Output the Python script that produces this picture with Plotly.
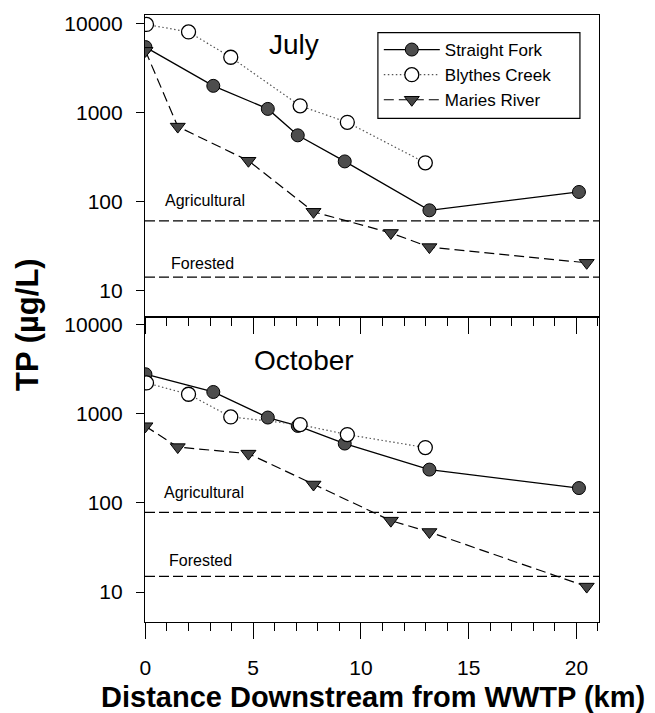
import plotly.graph_objects as go

# ---- data ----
SF_DIST = [0.0, 3.15, 5.68, 7.07, 9.25, 13.18, 20.12]
SF_JUL = [5400, 1980, 1090, 550, 280, 79, 127]
SF_OCT = [2750, 1740, 900, 725, 460, 235, 146]

BC_DIST = [0.05, 2.0, 3.96, 7.18, 9.37, 12.99]
BC_JUL = [9700, 8000, 4150, 1180, 770, 270]
BC_OCT = [2200, 1640, 915, 750, 580, 415]

MR_DIST = [0.0, 1.5, 4.78, 7.8, 11.39, 13.18, 20.48]
MR_JUL = [4900, 690, 285, 76, 44, 30.5, 20.3]
MR_OCT = [720, 420, 355, 160, 63, 47, 11.5]

AGRI = [60, 78]      # July, October agricultural reference TP
FOREST = [14, 15]    # July, October forested reference TP

X_RANGE = [-0.02, 21.05]
Y_TICKS = [10, 100, 1000, 10000]
X_TICKS = [0, 5, 10, 15, 20]

FONT = "Arial, Liberation Sans, Helvetica, sans-serif"

fig = go.Figure()

series = [
    ("Straight Fork", SF_DIST, SF_JUL, SF_OCT,
     dict(symbol="circle", size=13, color="#4d4d4d", line=dict(color="black", width=1)),
     dict(color="black", width=1.3, dash="solid")),
    ("Blythes Creek", BC_DIST, BC_JUL, BC_OCT,
     dict(symbol="circle", size=14, color="white", line=dict(color="black", width=1.3)),
     dict(color="#555555", width=1.2, dash="1.5px,2.5px")),
    ("Maries River", MR_DIST, MR_JUL, MR_OCT,
     dict(symbol="triangle-down", size=13, color="#454545", line=dict(color="black", width=1)),
     dict(color="black", width=1.2, dash="10px,5px")),
]

ref_line = dict(color="black", width=1.2, dash="10px,4px")

# reference lines first (drawn below data)
for i, ya in enumerate(["y", "y2"]):
    for val in (AGRI[i], FOREST[i]):
        fig.add_trace(go.Scatter(x=X_RANGE, y=[val, val], mode="lines", line=ref_line,
                                 showlegend=False, hoverinfo="skip",
                                 xaxis="x" if ya == "y" else "x2", yaxis=ya))

for name, dist, jul, octv, mk, ln in series:
    fig.add_trace(go.Scatter(x=dist, y=jul, mode="lines+markers", name=name,
                             marker=mk, line=ln, xaxis="x", yaxis="y", showlegend=True))
    fig.add_trace(go.Scatter(x=dist, y=octv, mode="lines+markers", name=name,
                             marker=mk, line=ln, xaxis="x2", yaxis="y2", showlegend=False))

split = 0.5027
tickfont = dict(family=FONT, size=21, color="black")

common_x = dict(range=X_RANGE, showgrid=False, zeroline=False, showline=True,
                linecolor="black", linewidth=1.2, tickvals=X_TICKS, tickcolor="black",
                ticklen=16, tickwidth=1.2, ticks="outside", mirror=True, tickfont=tickfont,
                minor=dict(dtick=1, tick0=0, ticks="outside", ticklen=8, tickcolor="black", tickwidth=1.2))

common_y = dict(type="log", showgrid=False, zeroline=False, showline=True, linecolor="black",
                linewidth=1.2, tickvals=Y_TICKS, ticktext=[str(v) for v in Y_TICKS],
                ticks="outside", ticklen=8, tickwidth=1.2, tickcolor="black", mirror=True,
                tickfont=tickfont, ticklabelstandoff=9)

fig.update_layout(
    width=655, height=713,
    margin=dict(l=145, r=56, t=15, b=91),
    paper_bgcolor="white", plot_bgcolor="white",
    font=dict(family=FONT, color="black"),
    xaxis=dict(common_x, anchor="y", showticklabels=False),
    yaxis=dict(common_y, domain=[split, 1], range=[0.70, 4.093], anchor="x"),
    xaxis2=dict(common_x, anchor="y2", ticklabelstandoff=11),
    yaxis2=dict(common_y, domain=[0, split], range=[0.664, 4.082], anchor="x2"),
    yaxis3=dict(type="log", overlaying="y", side="right", anchor="x", range=[0.70, 4.093],
                tickvals=Y_TICKS, ticks="inside", ticklen=8, tickwidth=1.2, tickcolor="black",
                showticklabels=False, showgrid=False, zeroline=False, showline=False),
    yaxis4=dict(type="log", overlaying="y2", side="right", anchor="x2", range=[0.664, 4.082],
                tickvals=Y_TICKS, ticks="inside", ticklen=8, tickwidth=1.2, tickcolor="black",
                showticklabels=False, showgrid=False, zeroline=False, showline=False),
    legend=dict(x=0.515, y=0.972, xanchor="left", yanchor="top", bgcolor="rgba(0,0,0,0)",
                borderwidth=0, font=dict(family=FONT, size=17, color="black"),
                itemwidth=56, tracegroupgap=0),
    showlegend=True,
)

# legend frame
fig.add_shape(type="rect", xref="paper", yref="paper", x0=0.513, x1=0.958, y0=0.8298, y1=0.971,
              line=dict(color="black", width=1.2), fillcolor="rgba(0,0,0,0)")

ann = [
    dict(text="July", x=0.2687, y=0.952, size=28),
    dict(text="October", x=0.236, y=0.430, size=28),
    dict(text="Agricultural", x=0.0396, y=0.6936, size=16),
    dict(text="Forested", x=0.0529, y=0.5914, size=16),
    dict(text="Agricultural", x=0.0374, y=0.213, size=16),
    dict(text="Forested", x=0.0485, y=0.101, size=16),
]
for a in ann:
    fig.add_annotation(text=a["text"], x=a["x"], y=a["y"], xref="paper", yref="paper",
                       xanchor="left", yanchor="middle", showarrow=False,
                       font=dict(family=FONT, size=a["size"], color="black"))

fig.add_annotation(text="<b>TP (µg/L)</b>", x=-0.2577, y=0.4893, xref="paper", yref="paper",
                   textangle=-90, showarrow=False, xanchor="center", yanchor="middle",
                   font=dict(family=FONT, size=31, color="black"))
fig.add_annotation(text="<b>Distance Downstream from WWTP (km)</b>", x=0.503, y=-0.1236,
                   xref="paper", yref="paper", showarrow=False, xanchor="center", yanchor="middle",
                   font=dict(family=FONT, size=29, color="black"))

fig.write_html("out.html", config={"displayModeBar": False},
               post_script="document.body.style.margin='0';document.body.style.overflow='hidden';")
